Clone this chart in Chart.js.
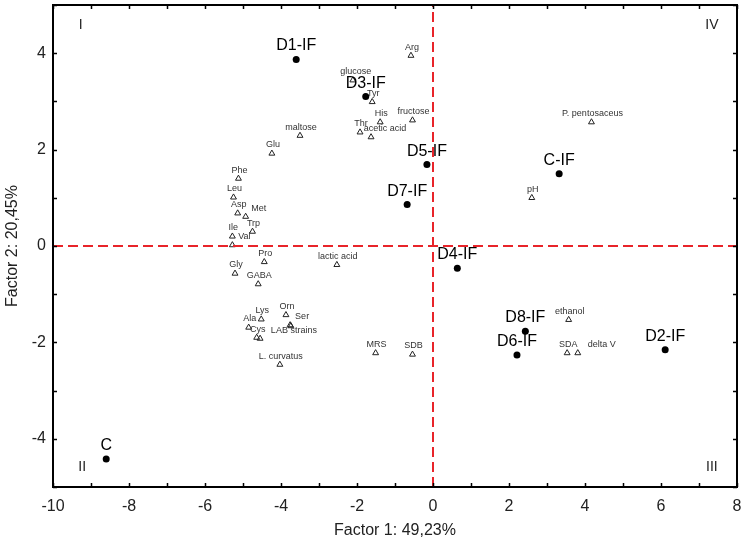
<!DOCTYPE html>
<html>
<head>
<meta charset="utf-8">
<script src="https://cdn.jsdelivr.net/npm/chart.js@4.4.1/dist/chart.umd.min.js"></script>
<style>
  body { margin: 0; background: #fff; }
  #wrap { width: 743px; height: 547px; }
</style>
</head>
<body>
<div id="wrap"><canvas id="grafico"></canvas></div>
<script>
// axis limits
const xMin = -10, xMax = 8;
const yMin = -5, yMax = 5;

// samples (filled dots)
const sampleNames = ['D1-IF', 'D3-IF', 'D5-IF', 'D7-IF', 'C-IF', 'D4-IF', 'D8-IF', 'D6-IF', 'D2-IF', 'C'];
const sampleX = [-3.6, -1.77, -0.16, -0.68, 3.32, 0.64, 2.43, 2.21, 6.11, -8.6];
const sampleY = [3.87, 3.10, 1.69, 0.86, 1.50, -0.46, -1.77, -2.26, -2.15, -4.42];

// variables (open triangles)
const varNames = ['Arg', 'glucose', 'Tyr', 'His', 'fructose', 'Thr', 'acetic acid', 'maltose', 'Glu', 'Phe',
  'Leu', 'Asp', 'Met', 'Trp', 'Ile', 'Val', 'Pro', 'Gly', 'GABA', 'lactic acid',
  'Orn', 'Lys', 'Ser', 'LAB strains', 'Ala', 'Cys', '', 'L. curvatus', 'MRS', 'SDB',
  'ethanol', 'SDA', 'delta V', 'P. pentosaceus', 'pH'];
const varX = [-0.58, -2.11, -1.6, -1.39, -0.54, -1.92, -1.63, -3.5, -4.24, -5.12,
  -5.25, -5.14, -4.93, -4.75, -5.28, -5.28, -4.44, -5.21, -4.6, -2.53,
  -3.87, -4.52, -3.76, -3.74, -4.85, -4.64, -4.55, -4.03, -1.51, -0.54,
  3.57, 3.53, 3.81, 4.17, 2.6];
const varY = [3.95, 3.44, 2.99, 2.57, 2.61, 2.36, 2.26, 2.29, 1.92, 1.40,
  1.01, 0.68, 0.61, 0.30, 0.20, 0.02, -0.33, -0.57, -0.79, -0.39,
  -1.43, -1.52, -1.64, -1.66, -1.69, -1.90, -1.92, -2.46, -2.22, -2.25,
  -1.53, -2.22, -2.22, 2.57, 1.0];

// quadrant numbers
const quadNames = ['I', 'II', 'III', 'IV'];
const quadX = [-9.27, -9.23, 7.34, 7.34];
const quadY = [4.59, -4.59, -4.59, 4.59];

const FONT = "'Liberation Sans', Arial, sans-serif";

// labels that are moved a bit off their point (px)
const labelShift = {
  'acetic acid': [14, 0], 'Met': [13, 0], 'Val': [12, 0], 'Ser': [12, 0],
  'delta V': [24, 0], 'LAB strains': [3, 13], 'glucose': [3, 0]
};

const etiquetas = {
  id: 'etiquetas',
  afterDatasetsDraw(chart) {
    const ctx = chart.ctx;
    ctx.save();
    ctx.textAlign = 'center';
    ctx.textBaseline = 'alphabetic';

    // sample names
    ctx.font = '16px ' + FONT;
    ctx.fillStyle = '#000';
    chart.getDatasetMeta(2).data.forEach((p, i) => {
      ctx.fillText(sampleNames[i], p.x, p.y - 9);
    });

    // variable names
    ctx.font = '9px ' + FONT;
    ctx.fillStyle = '#333';
    chart.getDatasetMeta(3).data.forEach((p, i) => {
      const s = labelShift[varNames[i]] || [1, 0];
      ctx.fillText(varNames[i], p.x + s[0], p.y - 6 + s[1]);
    });

    // quadrants
    const xs = chart.scales.x, ys = chart.scales.y;
    ctx.font = '14px ' + FONT;
    ctx.fillStyle = '#222';
    ctx.textBaseline = 'middle';
    quadNames.forEach((q, i) => {
      ctx.fillText(q, xs.getPixelForValue(quadX[i]), ys.getPixelForValue(quadY[i]));
    });
    ctx.restore();
  }
};

const marco = {
  id: 'marco',
  afterDraw(chart) {
    const ctx = chart.ctx;
    const a = chart.chartArea;
    const xs = chart.scales.x, ys = chart.scales.y;
    ctx.save();
    ctx.strokeStyle = '#000';
    ctx.lineWidth = 1.5;
    ctx.beginPath();
    xs.ticks.forEach(t => {
      const px = Math.round(xs.getPixelForValue(t.value)) + 0.5;
      ctx.moveTo(px, a.bottom); ctx.lineTo(px, a.bottom - 4);
      ctx.moveTo(px, a.top); ctx.lineTo(px, a.top + 4);
    });
    ys.ticks.forEach(t => {
      const py = Math.round(ys.getPixelForValue(t.value)) + 0.5;
      ctx.moveTo(a.left, py); ctx.lineTo(a.left + 4, py);
      ctx.moveTo(a.right, py); ctx.lineTo(a.right - 4, py);
    });
    ctx.stroke();
    ctx.lineWidth = 2;
    ctx.strokeRect(a.left, a.top, a.right - a.left, a.bottom - a.top);
    ctx.restore();
  }
};

const rojo = '#e8242a';

const chart = new Chart(document.getElementById('grafico').getContext('2d'), {
  type: 'scatter',
  data: {
    datasets: [
      {
        type: 'line',
        data: [{ x: 0, y: yMin }, { x: 0, y: yMax }],
        borderColor: rojo, borderWidth: 2, borderDash: [10, 5],
        pointRadius: 0, fill: false
      },
      {
        type: 'line',
        data: [{ x: xMin, y: 0 }, { x: xMax, y: 0 }],
        borderColor: rojo, borderWidth: 2, borderDash: [10, 5],
        pointRadius: 0, fill: false
      },
      {
        data: sampleX.map((x, i) => ({ x: x, y: sampleY[i] })),
        pointStyle: 'circle', pointRadius: 3.5,
        backgroundColor: '#000', borderColor: '#000', borderWidth: 0
      },
      {
        data: varX.map((x, i) => ({ x: x, y: varY[i] })),
        pointStyle: 'triangle', pointRadius: 3.4,
        backgroundColor: 'rgba(255,255,255,0)', borderColor: '#222', borderWidth: 1
      }
    ]
  },
  options: {
    responsive: true,
    maintainAspectRatio: false,
    animation: false,
    events: [],
    layout: { padding: { top: 3, right: 6, left: 0, bottom: 0 } },
    plugins: { legend: { display: false }, tooltip: { enabled: false } },
    scales: {
      x: {
        type: 'linear', min: xMin, max: xMax,
        grid: { display: false, drawTicks: false },
        border: { display: false },
        ticks: {
          stepSize: 1, autoSkip: false, maxRotation: 0, padding: 10,
          color: '#222', font: { family: FONT, size: 16 },
          callback: v => (v % 2 === 0 ? v : '')
        },
        title: {
          display: true, text: 'Factor 1: 49,23%', color: '#222',
          font: { family: FONT, size: 16 }, padding: { top: 7, bottom: 7 }
        },
        afterFit: s => { s.height = 60; s.paddingLeft = 0; s.paddingRight = 0; }
      },
      y: {
        type: 'linear', min: yMin, max: yMax,
        grid: { display: false, drawTicks: false },
        border: { display: false },
        ticks: {
          stepSize: 1, autoSkip: false, padding: 7,
          color: '#222', font: { family: FONT, size: 16 },
          callback: v => (v % 2 === 0 ? v : '')
        },
        title: {
          display: true, text: 'Factor 2: 20,45%', color: '#222',
          font: { family: FONT, size: 16 }, padding: { top: 3, bottom: 3 }
        },
        afterFit: s => { s.width = 53; s.paddingTop = 0; s.paddingBottom = 0; }
      }
    }
  },
  plugins: [etiquetas, marco]
});
</script>
</body>
</html>
